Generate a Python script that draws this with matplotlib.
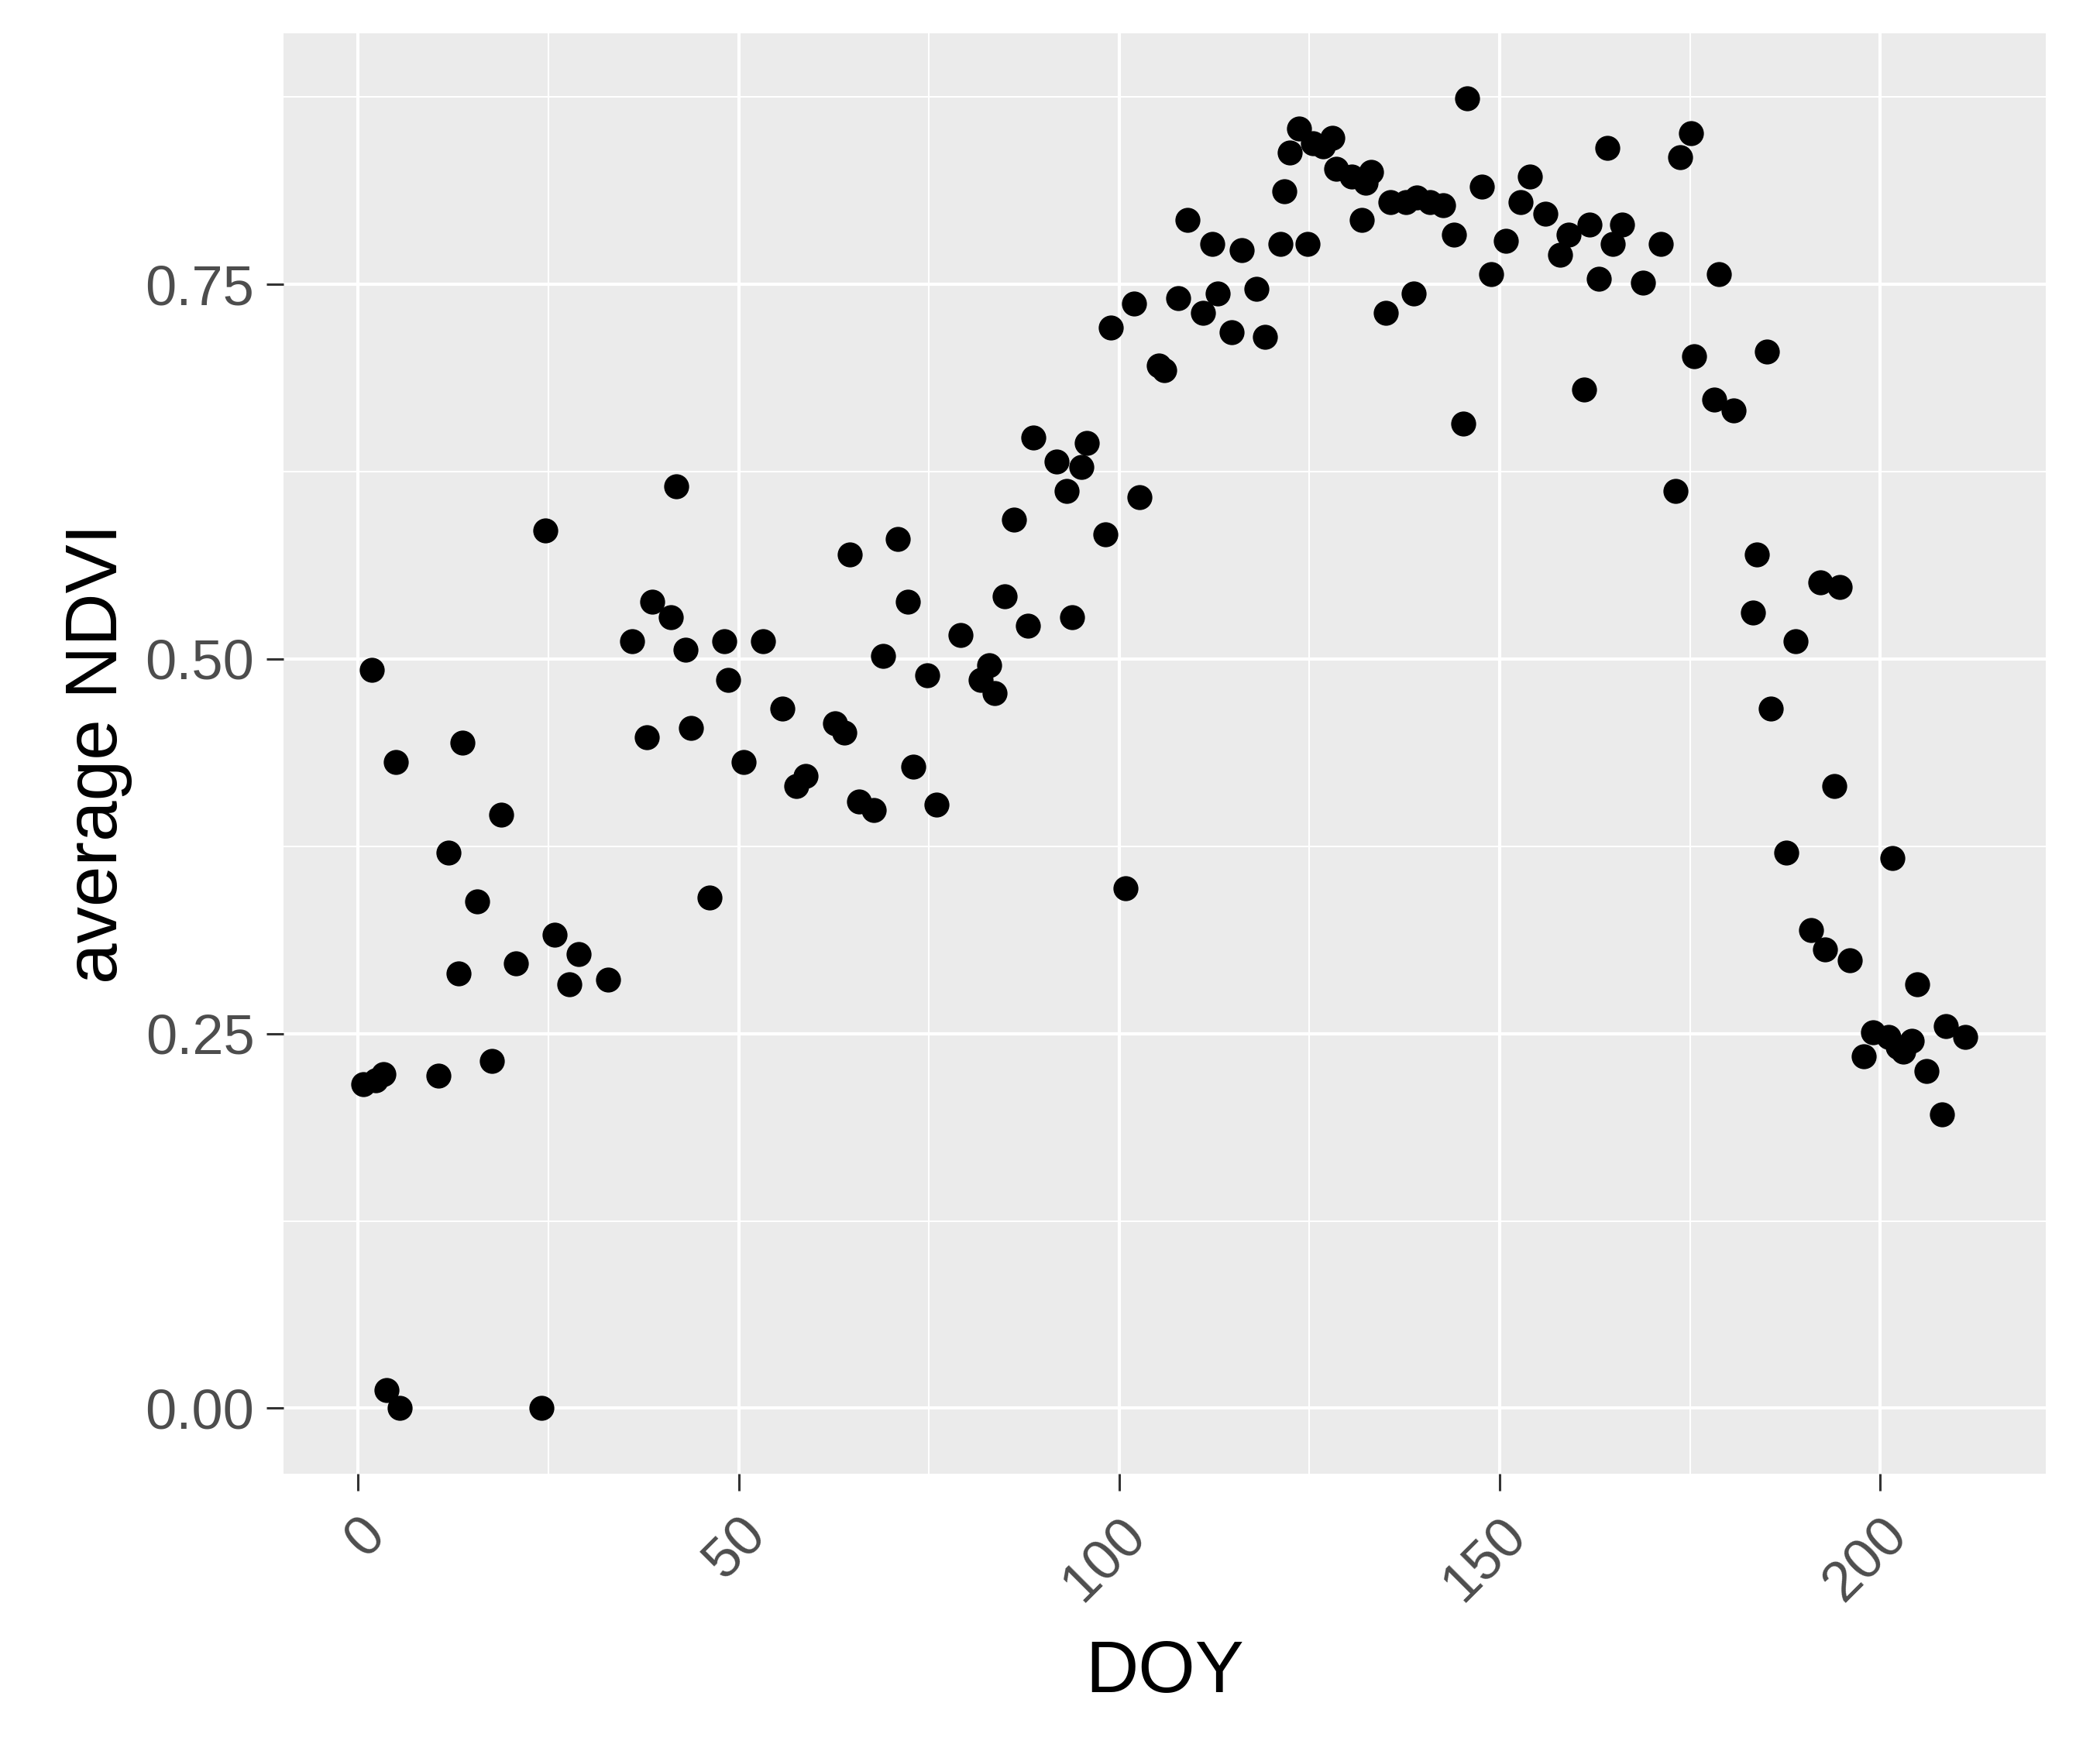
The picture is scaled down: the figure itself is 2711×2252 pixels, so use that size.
import matplotlib
matplotlib.use("Agg")
import matplotlib.pyplot as plt
from matplotlib.ticker import MultipleLocator

plt.rcParams["font.family"] = ["Liberation Sans", "DejaVu Sans"]

# day of year and average NDVI
doy = [0.7, 1.8, 2.3, 3.3, 3.7, 4.9, 5.4, 10.5, 11.9, 13.2, 13.7, 15.6, 17.6,
       18.8, 20.7, 24.1, 24.6, 25.8, 27.7, 29.0, 32.8, 36.0, 37.9, 38.6, 41.1,
       41.8, 43.0, 43.7, 46.2, 48.1, 48.6, 50.6, 53.2, 55.7, 57.6, 58.8, 62.7,
       63.9, 64.6, 65.8, 67.8, 69.0, 70.9, 72.2, 72.9, 74.8, 76.0, 79.2, 81.8,
       82.9, 83.6, 85.0, 86.2, 88.0, 88.7, 91.8, 93.1, 93.8, 95.0, 95.7, 98.2,
       98.9, 100.8, 102.0, 102.7, 105.2, 105.9, 107.8, 109.0, 111.0, 112.2,
       112.9, 114.8, 116.1, 118.0, 119.2, 121.2, 121.7, 122.4, 123.6, 124.8,
       125.5, 126.8, 128.0, 128.5, 130.6, 131.9, 132.4, 133.1, 135.0, 135.7,
       137.7, 138.7, 139.1, 140.8, 142.6, 144.0, 145.2, 145.7, 147.7, 148.9,
       150.8, 152.8, 154.0, 156.0, 157.9, 159.1, 161.1, 161.8, 163.0, 164.2,
       164.9, 166.1, 168.8, 171.2, 173.1, 173.7, 175.1, 175.6, 178.2, 178.8,
       180.7, 183.3, 183.8, 185.1, 185.6, 187.7, 188.9, 190.9, 192.1, 192.8,
       194.0, 194.7, 196.0, 197.9, 199.1, 201.1, 201.6, 202.3, 203.0, 204.2,
       204.9, 206.1, 208.1, 208.6, 211.2]
ndvi = [0.216, 0.493, 0.219, 0.223, 0.012, 0.431, 0.000, 0.222, 0.371, 0.290,
        0.444, 0.338, 0.232, 0.396, 0.297, 0.000, 0.586, 0.316, 0.283, 0.303,
        0.286, 0.512, 0.448, 0.538, 0.528, 0.615, 0.506, 0.454, 0.341, 0.512,
        0.486, 0.431, 0.512, 0.467, 0.415, 0.422, 0.457, 0.451, 0.570, 0.405,
        0.399, 0.502, 0.580, 0.538, 0.428, 0.489, 0.403, 0.516, 0.486, 0.496,
        0.477, 0.542, 0.593, 0.522, 0.648, 0.632, 0.612, 0.528, 0.628, 0.644,
        0.583, 0.721, 0.347, 0.737, 0.608, 0.696, 0.693, 0.741, 0.793, 0.731,
        0.777, 0.744, 0.718, 0.773, 0.747, 0.715, 0.777, 0.812, 0.838, 0.854,
        0.777, 0.844, 0.842, 0.848, 0.827, 0.822, 0.793, 0.818, 0.825, 0.731,
        0.805, 0.805, 0.744, 0.808, 0.805, 0.803, 0.783, 0.657, 0.874, 0.815,
        0.757, 0.779, 0.805, 0.822, 0.797, 0.770, 0.783, 0.680, 0.790, 0.754,
        0.841, 0.777, 0.790, 0.751, 0.777, 0.612, 0.835, 0.851, 0.702, 0.673,
        0.757, 0.666, 0.531, 0.570, 0.705, 0.467, 0.371, 0.512, 0.319, 0.551,
        0.306, 0.415, 0.548, 0.299, 0.235, 0.251, 0.248, 0.367, 0.241, 0.238,
        0.245, 0.283, 0.225, 0.196, 0.255, 0.248]

x_ticks = [0, 50, 100, 150, 200]
y_ticks = [0.00, 0.25, 0.50, 0.75]
y_tick_labels = ["0.00", "0.25", "0.50", "0.75"]

fig = plt.figure(figsize=(27.11, 22.52), dpi=100)
ax = fig.add_axes([0.135, 0.155, 0.839, 0.826])
ax.set_facecolor("#EBEBEB")
for s in ax.spines.values():
    s.set_visible(False)

ax.scatter(doy, ndvi, s=540, color="black", linewidths=0, zorder=3)

span_x = max(doy) - min(doy)
span_y = max(ndvi) - min(ndvi)
ax.set_xlim(min(doy) - 0.05 * span_x, max(doy) + 0.05 * span_x)
ax.set_ylim(min(ndvi) - 0.05 * span_y, max(ndvi) + 0.05 * span_y)

ax.set_xticks(x_ticks)
ax.set_xticklabels([str(v) for v in x_ticks])
ax.set_yticks(y_ticks)
ax.set_yticklabels(y_tick_labels)
ax.xaxis.set_minor_locator(MultipleLocator(25))
ax.yaxis.set_minor_locator(MultipleLocator(0.125))

ax.set_axisbelow(True)
ax.grid(which="major", color="white", lw=3.0)
ax.grid(which="minor", color="white", lw=1.5)
ax.tick_params(which="minor", length=0)
ax.tick_params(which="major", length=16, width=2.2, color="#333333",
               labelsize=52, labelcolor="#4D4D4D")
ax.tick_params(axis="y", pad=11)
ax.tick_params(axis="x", pad=16)

for lab in ax.get_xticklabels():
    lab.set_rotation(45)
    lab.set_ha("right")
    lab.set_va("top")
    lab.set_rotation_mode("anchor")

ax.set_xlabel("DOY", fontsize=68, labelpad=26)
ax.set_ylabel("average NDVI", fontsize=68, labelpad=12)

fig.savefig("out.png", dpi=100)
